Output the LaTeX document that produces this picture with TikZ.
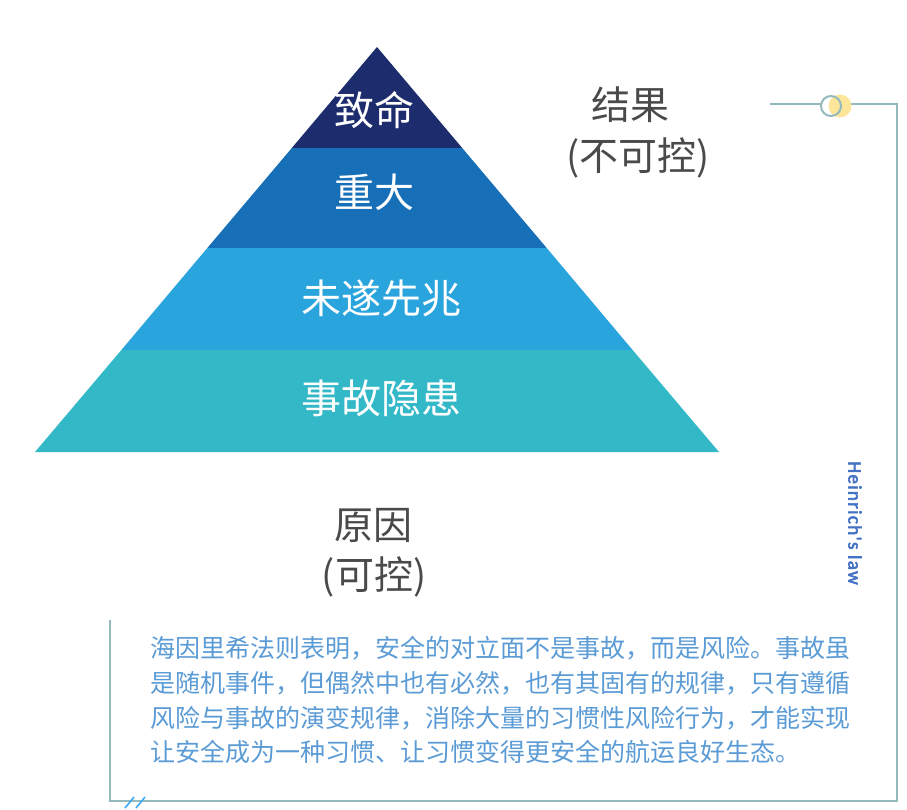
\documentclass[tikz,border=0pt]{standalone}
\usepackage{fontspec}
\newfontfamily\cjk{Noto Sans CJK SC}
\newfontfamily\latinf{Carlito}[FakeBold=3,LetterSpace=7]
\definecolor{navy}{HTML}{1D2C6C}
\definecolor{bandb}{HTML}{176FB8}
\definecolor{bandc}{HTML}{29A4DD}
\definecolor{bandd}{HTML}{33B8C8}
\definecolor{frame}{HTML}{93B9BD}
\definecolor{sun}{HTML}{FDE59A}
\definecolor{graytxt}{HTML}{4A4A4A}
\definecolor{bluetxt}{HTML}{5B9BD5}
\definecolor{headblue}{HTML}{4472C4}
\definecolor{slash}{HTML}{3FA9F5}
\begin{document}
\begin{tikzpicture}[x=1pt,y=-1pt,
  bandlabel/.style={text=white,font=\cjk\fontsize{40}{40}\selectfont,inner sep=0pt},
  sidelabel/.style={text=graytxt,font=\cjk\fontsize{39}{52}\selectfont,align=center,inner sep=0pt},
  para/.style={text=bluetxt,font=\cjk\fontsize{25}{35}\selectfont,anchor=west,inner sep=0pt},
  frameline/.style={draw=frame,line width=2.2pt}]
\useasboundingbox (0,0) rectangle (907,809);
% pyramid bands
\coordinate (apex) at (377,47);
\fill[navy] (377,47) -- (462.2,148) -- (291.8,148) -- cycle;
\fill[bandb] (291.8,148) -- (462.2,148) -- (546.7,248) -- (207.3,248) -- cycle;
\fill[bandc] (207.3,248) -- (546.7,248) -- (632.6,350) -- (121.4,350) -- cycle;
\fill[bandd] (121.4,350) -- (632.6,350) -- (719,452) -- (35,452) -- cycle;
\node[bandlabel] (l1) at (374,110) {致命};
\node[bandlabel] (l2) at (374,192) {重大};
\node[bandlabel] (l3) at (381,298) {未遂先兆};
\node[bandlabel] (l4) at (381,398) {事故隐患};
% side labels
\node[sidelabel] (res) at (630,105) {结果};
\node[sidelabel] (resc) at (638,158) {(不可控)};
\node[sidelabel] (cause) at (373,525) {原因};
\node[sidelabel] (causec) at (374,577) {(可控)};
% frame
\draw[frameline] (770,104) -- (897,104) -- (897,801) -- (110,801) -- (110,620);
\fill[white] (831,106) circle (10);
\fill[sun] (840,106) circle (11.5);
\draw[frame,line width=2pt] (831,106) circle (10);
\draw[slash,line width=1.6pt] (125,808) -- (134,797);
\draw[slash,line width=1.6pt] (136,808) -- (145,797);
\node[text=headblue,font=\latinf\fontsize{19}{19}\selectfont,rotate=-90,inner sep=0pt] (law) at (855,523) {Heinrich's law};
% paragraph
\node[para] (p1) at (150,648) {海因里希法则表明，安全的对立面不是事故，而是风险。事故虽};
\node[para] (p2) at (150,683) {是随机事件，但偶然中也有必然，也有其固有的规律，只有遵循};
\node[para] (p3) at (150,718) {风险与事故的演变规律，消除大量的习惯性风险行为，才能实现};
\node[para] (p4) at (150,752) {让安全成为一种习惯、让习惯变得更安全的航运良好生态。};
\end{tikzpicture}
\end{document}
